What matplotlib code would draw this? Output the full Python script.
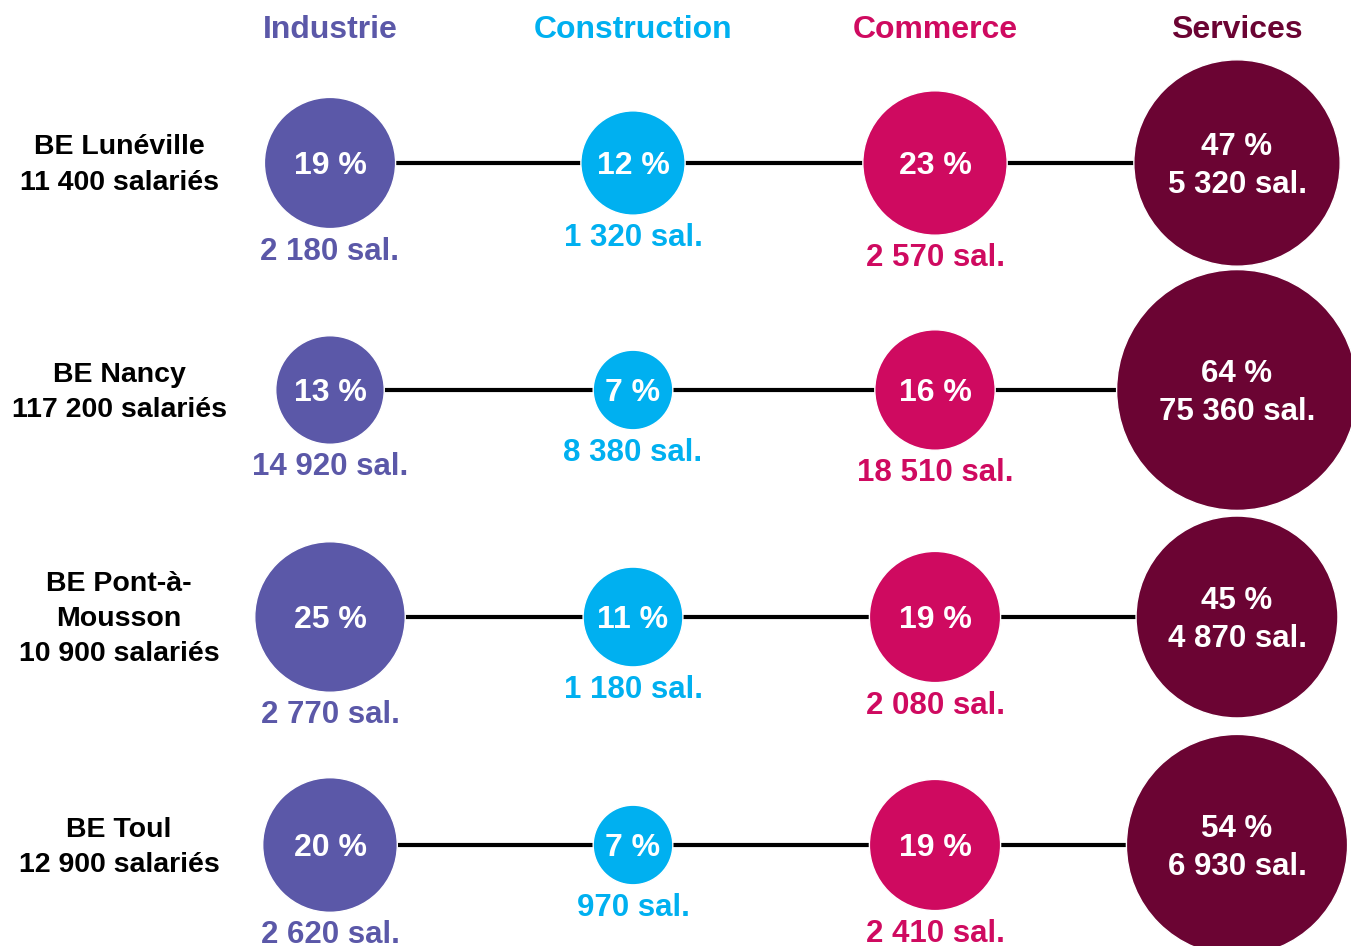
import numpy as np
import matplotlib.pyplot as plt
from matplotlib.patches import Circle

plt.rcParams['font.family'] = ['Liberation Sans', 'DejaVu Sans']

sites = ['BE Lunéville\n11 400 salariés', 'BE Nancy\n117 200 salariés',
         'BE Pont-à-\nMousson\n10 900 salariés', 'BE Toul\n12 900 salariés']
sectors = ['Industrie', 'Construction', 'Commerce', 'Services']
colors = ['#5B58A8', '#00B0F0', '#CF0A60', '#6B0433']

industrie_pct = [19, 13, 25, 20]
construction_pct = [12, 7, 11, 7]
commerce_pct = [23, 16, 19, 19]
services_pct = [47, 64, 45, 54]

industrie_sal = ['2 180', '14 920', '2 770', '2 620']
construction_sal = ['1 320', '8 380', '1 180', '970']
commerce_sal = ['2 570', '18 510', '2 080', '2 410']
services_sal = ['5 320', '75 360', '4 870', '6 930']

pcts = [industrie_pct, construction_pct, commerce_pct, services_pct]
sals = [industrie_sal, construction_sal, commerce_sal, services_sal]

# layout (pixel-like coordinates)
col_x = [330, 633, 935, 1237]
row_y = [163, 390, 617, 845]
k = 15.05  # radius = k * sqrt(pct)

fig = plt.figure(figsize=(13.51, 9.46), dpi=100)
ax = fig.add_axes([0, 0, 1, 1])
ax.set_xlim(0, 1351)
ax.set_ylim(946, 0)
ax.axis('off')

for j, name in enumerate(sectors):
    ax.text(col_x[j], 30, name, color=colors[j], fontsize=23, fontweight='bold',
            ha='center', va='center')

for i, site in enumerate(sites):
    y = row_y[i]
    ax.text(119, y + 2, site, fontsize=20.5, fontweight='bold', ha='center', va='center',
            linespacing=1.45)
    ax.plot([col_x[0], col_x[-1]], [y, y], color='black', lw=3, zorder=1)
    for j in range(4):
        r = k * np.sqrt(pcts[j][i])
        ax.add_patch(Circle((col_x[j], y), r, facecolor=colors[j],
                            edgecolor='white', lw=1, zorder=2))
        if j < 3:
            ax.text(col_x[j], y + 3, f'{pcts[j][i]} %', color='white', fontsize=23,
                    fontweight='bold', ha='center', va='center', zorder=3)
            ax.text(col_x[j], y + r + 23, f'{sals[j][i]} sal.', color=colors[j],
                    fontsize=22.5, fontweight='bold', ha='center', va='center', zorder=3)
        else:
            ax.text(col_x[j], y + 3, f'{pcts[j][i]} %\n{sals[j][i]} sal.', color='white',
                    fontsize=22.5, fontweight='bold', ha='center', va='center',
                    linespacing=1.35, zorder=3)

fig.savefig('out.png', dpi=100)
